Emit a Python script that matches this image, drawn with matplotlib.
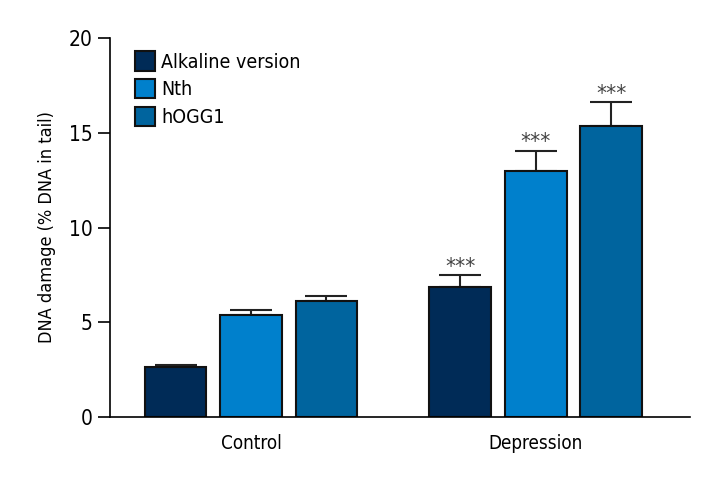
import numpy as np
import matplotlib
matplotlib.use("Agg")
import matplotlib.pyplot as plt

plt.rcParams['font.family'] = ['DejaVu Sans']
plt.rcParams['font.stretch'] = 'condensed'

groups = ["Control", "Depression"]
series = ["Alkaline version", "Nth", "hOGG1"]
means = [[2.65, 6.85], [5.4, 13.0], [6.1, 15.35]]
errs = [[0.08, 0.63], [0.25, 1.05], [0.3, 1.25]]
stars = [["", "***"], ["", "***"], ["", "***"]]
colors = ["#002b57", "#0080cc", "#00649e"]

fig = plt.figure(figsize=(7.2, 4.8), dpi=100)
ax = fig.add_axes([0.1528, 0.131, 0.805, 0.79])

x = np.arange(len(groups))
offs = [-0.265, 0, 0.265]
w = 0.2175
for i, name in enumerate(series):
    ax.bar(x + offs[i], means[i], w, color=colors[i], edgecolor="#111111",
           linewidth=1.5, label=name, zorder=2)
    ax.errorbar(x + offs[i], means[i], yerr=[[0, 0], errs[i]], fmt="none",
                ecolor="#222222", elinewidth=1.5, capsize=15, capthick=1.5, zorder=1)
    for j in range(len(groups)):
        if stars[i][j]:
            ax.text(x[j] + offs[i], means[i][j] + errs[i][j] + 0.12, stars[i][j],
                    ha="center", va="baseline", fontsize=16, color="#444444")

ax.set_xlim(-0.495, 1.54)
ax.set_ylim(0, 20)
ax.set_yticks([0, 5, 10, 15, 20])
ax.set_xticks(x)
ax.set_xticklabels(groups, fontsize=13.5)
ax.tick_params(axis="y", labelsize=15, length=9, width=1.2, direction="out")
ax.tick_params(axis="x", length=0, pad=12)
ax.set_ylabel("DNA damage (% DNA in tail)", fontsize=13, labelpad=9)
for s in ["top", "right"]:
    ax.spines[s].set_visible(False)
for s in ["left", "bottom"]:
    ax.spines[s].set_linewidth(1.2)

ax.legend(loc="upper left", bbox_to_anchor=(0.03, 0.985), frameon=False, fontsize=14,
          handlelength=1.0, handleheight=1.15, handletextpad=0.35, labelspacing=0.38,
          borderaxespad=0)

fig.savefig("out.png", dpi=100)
